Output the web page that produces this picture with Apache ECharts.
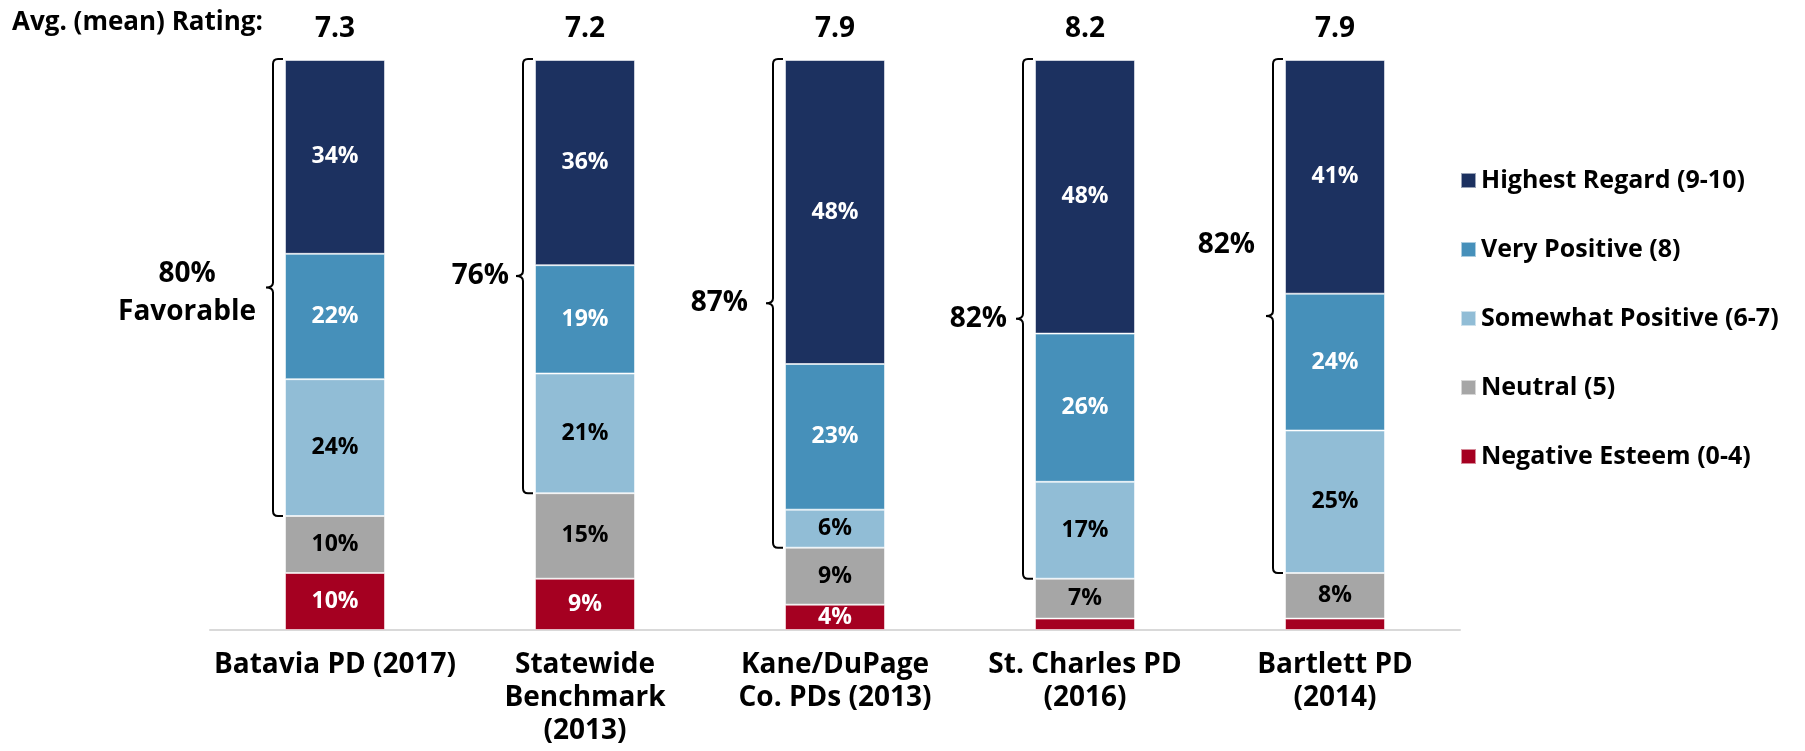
<!DOCTYPE html>
<html>
<head>
<meta charset="utf-8">
<title>Police Department Regard</title>
<script src="https://cdn.jsdelivr.net/npm/echarts@6/dist/echarts.min.js"></script>
<style>
  html, body { margin: 0; padding: 0; background: #fff; }
  #chart { width: 1805px; height: 751px; }
</style>
</head>
<body>
<div id="chart"></div>
<script>
// data
const categories = ['Batavia PD (2017)', 'Statewide\nBenchmark\n(2013)', 'Kane/DuPage\nCo. PDs (2013)', 'St. Charles PD\n(2016)', 'Bartlett PD\n(2014)'];
const avgRatings = ['7.3', '7.2', '7.9', '8.2', '7.9'];
const highestRegard = [34, 36, 48, 48, 41];
const veryPositive = [22, 19, 23, 26, 24];
const somewhatPositive = [24, 21, 6, 17, 25];
const neutral = [10, 15, 9, 7, 8];
const negativeEsteem = [10, 9, 4, 2, 2];
const favorable = [80, 76, 87, 82, 82];

const FONT = '"Open Sans", Lato, sans-serif';
const WEIGHT = 'bold';
const BAR_W = 100;

// bottom-up stacking order
const segments = [
  { name: 'Negative Esteem (0-4)', values: negativeEsteem, color: '#a50021', text: '#fff' },
  { name: 'Neutral (5)', values: neutral, color: '#a6a6a6', text: '#000' },
  { name: 'Somewhat Positive (6-7)', values: somewhatPositive, color: '#91bdd6', text: '#000' },
  { name: 'Very Positive (8)', values: veryPositive, color: '#4690ba', text: '#fff' },
  { name: 'Highest Regard (9-10)', values: highestRegard, color: '#1c3160', text: '#fff' }
];

// each bar fills the full height (Kane/DuPage sums to 90)
const totals = categories.map((_, i) => segments.reduce((s, seg) => s + seg.values[i], 0));
const norm = (v, i) => v / totals[i] * 100;

// brace label placement (relative to brace line / tip)
const braceLabelAlign = ['center', 'right', 'right', 'right', 'right'];
const braceLabelDx = [-86, -14, -25, -16, -18];
const braceLabelDy = [6, 0, 0, 0, -71];

const braceData = categories.map((_, i) => [
  i,
  norm(negativeEsteem[i] + neutral[i], i),
  100,
  favorable[i]
]);

const chart = echarts.init(document.getElementById('chart'));

const barSeries = segments.map(seg => ({
  name: seg.name,
  type: 'bar',
  stack: 'total',
  barWidth: BAR_W,
  data: seg.values.map(norm),
  itemStyle: { color: seg.color, borderColor: 'rgba(255,255,255,0.55)', borderWidth: 1 },
  label: {
    show: true,
    position: 'inside',
    color: seg.text,
    fontFamily: FONT,
    fontWeight: WEIGHT,
    fontSize: 23,
    formatter: p => seg.values[p.dataIndex] >= 3 ? seg.values[p.dataIndex] + '%' : ''
  },
  emphasis: { disabled: true }
}));

const braceSeries = {
  type: 'custom',
  data: braceData,
  z: 5,
  silent: true,
  renderItem: (params, api) => {
    const i = api.value(0);
    const top = api.coord([i, api.value(2)]);
    const bot = api.coord([i, api.value(1)]);
    const x = top[0] - BAR_W / 2 - 12;
    const y0 = top[1] - 1;
    const y1 = bot[1];
    const mid = (y0 + y1) / 2;
    const r = 5;
    const path = [
      'M', x + 10, y0,
      'L', x + r, y0,
      'Q', x, y0, x, y0 + r,
      'L', x, mid - 5,
      'Q', x, mid, x - 7, mid,
      'Q', x, mid, x, mid + 5,
      'L', x, y1 - r,
      'Q', x, y1, x + r, y1,
      'L', x + 10, y1
    ].join(' ');
    const txt = favorable[i] + '%' + (i === 0 ? '\nFavorable' : '');
    return {
      type: 'group',
      children: [
        {
          type: 'path',
          shape: { pathData: path },
          style: { fill: 'none', stroke: '#000', lineWidth: 2 }
        },
        {
          type: 'text',
          style: {
            text: txt,
            x: x + braceLabelDx[i],
            y: mid + braceLabelDy[i],
            align: braceLabelAlign[i],
            verticalAlign: 'middle',
            fill: '#000',
            font: WEIGHT + ' 28px ' + FONT,
            lineHeight: 38
          }
        }
      ]
    };
  }
};

chart.setOption({
  backgroundColor: '#fff',
  animation: false,
  grid: { left: 210, width: 1250, top: 60, bottom: 121, outerBoundsMode: 'none' },
  legend: {
    orient: 'vertical',
    left: 1455,
    top: 163,
    itemWidth: 15,
    itemHeight: 15,
    itemGap: 44,
    selectedMode: false,
    icon: 'rect',
    data: segments.map(s => s.name).reverse(),
    textStyle: { fontFamily: FONT, fontWeight: WEIGHT, fontSize: 25, lineHeight: 25, color: '#000' }
  },
  graphic: [{
    type: 'text',
    left: 12,
    top: 10,
    style: { text: 'Avg. (mean) Rating:', font: WEIGHT + ' 26px ' + FONT, fill: '#000' }
  }],
  xAxis: [
    {
      type: 'category',
      data: categories,
      axisLine: { lineStyle: { color: '#d9d9d9', width: 2 } },
      axisTick: { show: false },
      axisLabel: {
        color: '#000',
        fontFamily: FONT,
        fontWeight: WEIGHT,
        fontSize: 28,
        lineHeight: 33,
        margin: 19,
        interval: 0
      }
    },
    {
      type: 'category',
      position: 'top',
      data: avgRatings,
      axisLine: { show: false },
      axisTick: { show: false },
      axisLabel: {
        color: '#000',
        fontFamily: FONT,
        fontWeight: WEIGHT,
        fontSize: 28,
        margin: 17,
        interval: 0
      }
    }
  ],
  yAxis: { type: 'value', min: 0, max: 100, show: false },
  series: [...barSeries, braceSeries]
});
</script>
</body>
</html>
